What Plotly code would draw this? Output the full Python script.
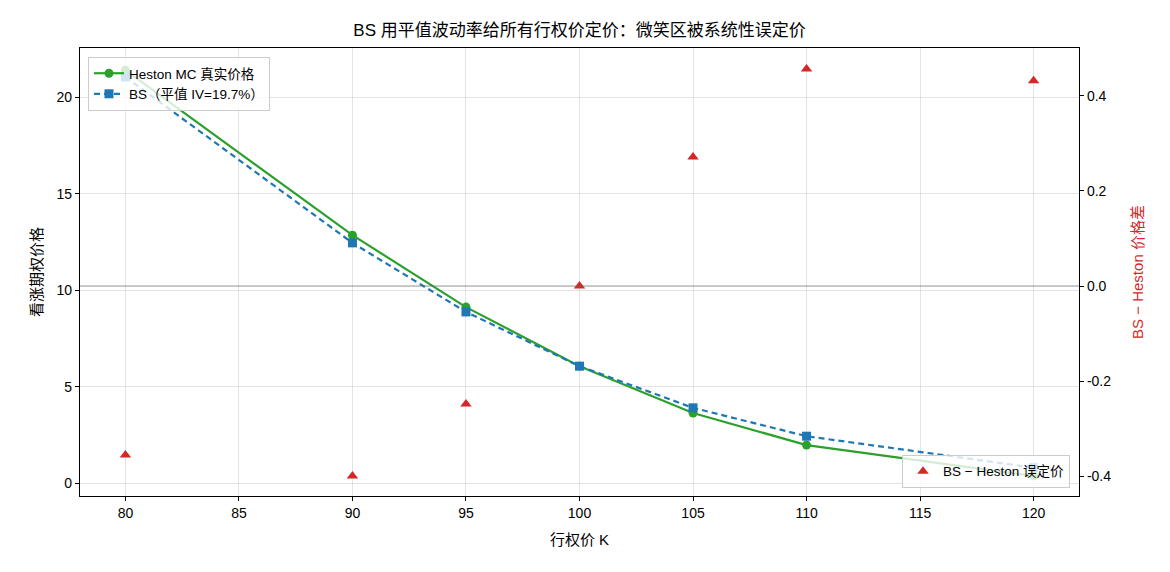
import plotly.graph_objects as go

strikes = [80, 90, 95, 100, 105, 110, 120]
heston_price = [21.40, 12.85, 9.12, 6.06, 3.63, 1.97, 0.37]
bs_price = [21.05, 12.45, 8.87, 6.06, 3.90, 2.43, 0.80]
diff = [-0.355, -0.399, -0.248, 0.0, 0.271, 0.456, 0.431]
x_ticks = [80, 85, 90, 95, 100, 105, 110, 115, 120]

FONT = "Liberation Sans, Arial, Noto Sans CJK SC, sans-serif"
GREEN = "#2ca02c"
BLUE = "#1f77b4"
RED = "#d62728"

fig = go.Figure()
fig.add_trace(go.Scatter(
    x=strikes, y=heston_price, mode="lines+markers", name="Heston MC 真实价格",
    line=dict(color=GREEN, width=2.2), marker=dict(symbol="circle", size=9, color=GREEN),
    legend="legend"))
fig.add_trace(go.Scatter(
    x=strikes, y=bs_price, mode="lines+markers", name="BS（平值 IV=19.7%）",
    line=dict(color=BLUE, width=2.2, dash="6px,4px"), marker=dict(symbol="square", size=9, color=BLUE),
    legend="legend"))
fig.add_trace(go.Scatter(
    x=strikes, y=diff, mode="markers", name="BS − Heston 误定价", yaxis="y2",
    marker=dict(symbol="triangle-up", size=10, color=RED),
    legend="legend2"))

fig.add_shape(type="line", xref="paper", yref="y2", x0=0, x1=1, y0=0, y1=0,
              line=dict(color="rgba(100,100,100,0.7)", width=1))

axis_common = dict(showline=True, linecolor="black", linewidth=1.2, ticks="outside",
                   ticklen=4, tickcolor="black", tickfont=dict(size=14, color="black", family=FONT),
                   zeroline=False)

fig.update_layout(
    width=1170, height=572,
    margin=dict(l=80, r=91, t=48, b=76),
    paper_bgcolor="white", plot_bgcolor="white",
    font=dict(family=FONT, color="black"),
    title=dict(text="BS 用平值波动率给所有行权价定价：微笑区被系统性误定价",
               x=0.5, xanchor="center", y=0.947, yanchor="middle",
               xref="paper", font=dict(size=17, family=FONT)),
    xaxis=dict(range=[78, 122], tickvals=x_ticks, showgrid=True,
               gridcolor="rgba(200,200,200,0.5)", mirror=True,
               title=dict(text="行权价 K", font=dict(size=15), standoff=14), **axis_common),
    yaxis=dict(range=[-0.67, 22.55], tickvals=[0, 5, 10, 15, 20], showgrid=True,
               gridcolor="rgba(200,200,200,0.5)", mirror=False,
               title=dict(text="看涨期权价格", font=dict(size=15), standoff=10), **axis_common),
    yaxis2=dict(overlaying="y", side="right", range=[-0.441, 0.5],
                tickvals=[-0.4, -0.2, 0, 0.2, 0.4], ticktext=["-0.4", "-0.2", "0.0", "0.2", "0.4"],
                showgrid=False,
                title=dict(text="BS − Heston 价格差", font=dict(size=15, color=RED), standoff=22),
                **axis_common),
    legend=dict(x=0.008, y=0.98, xanchor="left", yanchor="top",
                bgcolor="rgba(255,255,255,0.8)", bordercolor="#cccccc", borderwidth=1,
                font=dict(size=13.5, family=FONT), tracegroupgap=2),
    legend2=dict(x=0.991, y=0.018, xanchor="right", yanchor="bottom",
                 bgcolor="rgba(255,255,255,0.8)", bordercolor="#cccccc", borderwidth=1,
                 font=dict(size=13.5, family=FONT)),
)

fig.write_html("out.html")
